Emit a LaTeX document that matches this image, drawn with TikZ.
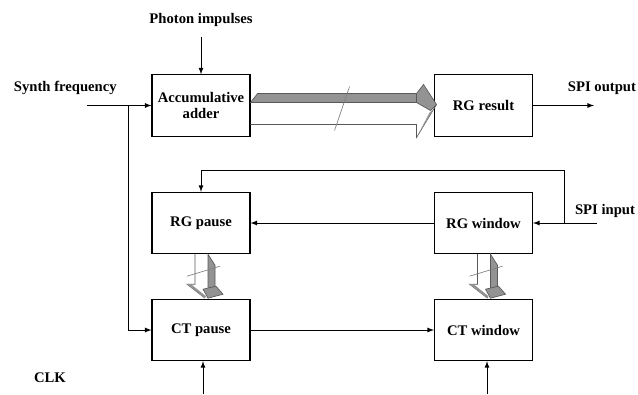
\documentclass[tikz,border=0pt]{standalone}
\usepackage{fontspec}
\setmainfont{Liberation Serif}
\begin{document}
\begin{tikzpicture}[x=0.75pt,y=-0.75pt,>=latex,line width=0.7pt,
  font=\fontsize{11}{12}\selectfont\bfseries,
  block/.style={draw,line width=0.8pt,minimum width=73.5pt,minimum height=46pt,align=center,inner sep=2pt},
  busline/.style={draw=gray!70!black,line width=0.5pt},
  busface/.style={busline,fill=gray!85}]
\useasboundingbox (0,0) rectangle (638,394);

\node[block] (adder) at (201,105.5) {Accumulative\\adder};
\node[block] (result) at (483.5,105.5) {RG result};
\node[block] (rgpause) at (201,223) {RG pause};
\node[block] (rgwindow) at (483.5,223) {RG window};
\node[block] (ctpause) at (201,330) {CT pause};
\node[block] (ctwindow) at (483.5,330) {CT window};

\node (photon) at (201,20) {Photon impulses};
\node[anchor=west] (synth) at (9,88) {Synth frequency};
\node (spiout) at (602,88) {SPI output};
\node (spiin) at (605,211) {SPI input};
\node (clk) at (50,378) {CLK};

\coordinate (synthin) at (87,105.5);
\coordinate (split) at (128,105.5);
\coordinate (outend) at (594,105.5);
\coordinate (inbeg) at (597,223);
\coordinate (fb) at (564,223);
\coordinate (fbtop) at (564,170);
\coordinate (clka) at (203,394);
\coordinate (clkb) at (487,394);

\draw[->] ([yshift=-4pt]photon.south) -- (adder.north);
\draw[->] (synthin) -- (adder.west);
\draw[->] (split) |- (ctpause.west);
\draw[->] (result.east) -- (outend);
\draw[->] (inbeg) -- (rgwindow.east);
\draw[->] (fb) -- (fbtop) -| (rgpause.north);
\draw[->] (rgwindow.west) -- (rgpause.east);
\draw[->] (ctpause.east) -- (ctwindow.west);
\draw[->] (clka) -- (clka |- ctpause.south);
\draw[->] (clkb) -- (clkb |- ctwindow.south);

% bus from adder to result
\begin{scope}[shift={(adder.east)}]
  \draw[busline] (0,19) -- (166,19) -- (166,32) -- (186,-1);
  \draw[busface] (0,-3) -- (7,-12) -- (166,-12) -- (166,-3) -- cycle;
  \draw[busface] (166,-12) -- (173,-21) -- (186,-1) -- (180,5) -- (166,-3) -- cycle;
  \fill[gray!85] (166,32) -- (179,7) -- (183,4) -- cycle;
  \draw[gray,line width=0.5pt] (99,-19) -- (84,25);
\end{scope}

% buses pause/window down to counters
\foreach \b in {rgpause,rgwindow}{
  \begin{scope}[shift={(\b.south)}]
    \draw[busline] (-6,0) -- (-6,30) -- (-14,30) -- (4,44);
    \fill[gray!85] (-14,30) -- (-10,30) -- (5,42) -- (4,44) -- cycle;
    \draw[busface] (7,0) -- (14,11) -- (14,32) -- (7,35) -- cycle;
    \draw[busface] (2,35) -- (15,32) -- (22,40) -- (7,44) -- cycle;
    \draw[gray,line width=0.5pt] (-14,22) -- (19,12);
  \end{scope}
}
\end{tikzpicture}
\end{document}
